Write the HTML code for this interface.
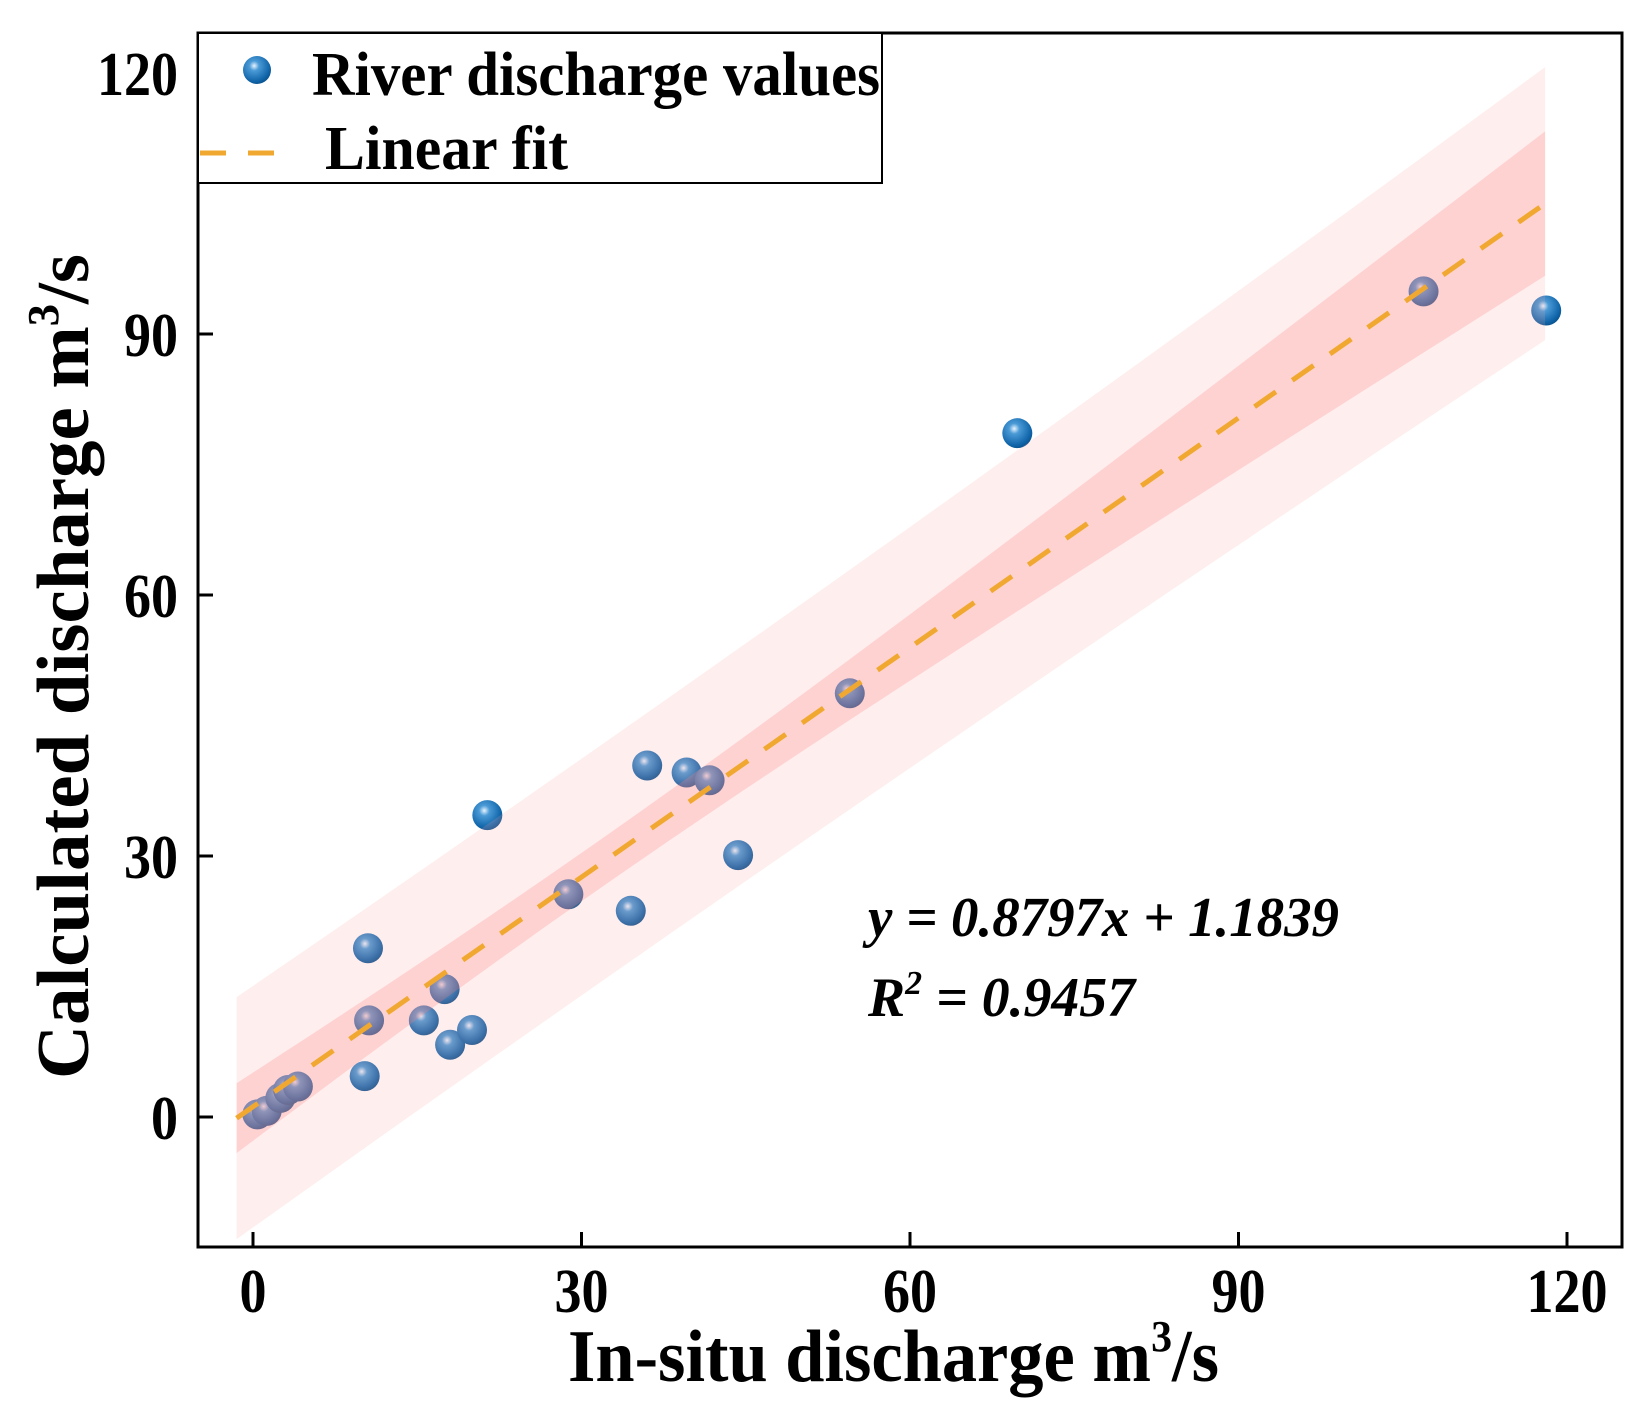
<!DOCTYPE html>
<html><head><meta charset="utf-8"><style>
html,body{margin:0;padding:0;background:#fff;}
svg{display:block;}
text{font-family:"Liberation Serif",serif;font-weight:bold;fill:#000;}
</style></head><body>
<svg id="chart" width="1651" height="1419" viewBox="0 0 1651 1419">
<defs>
<radialGradient id="ball" cx="0.4" cy="0.35" r="0.7">
<stop offset="0" stop-color="#e8f4ff"/><stop offset="0.25" stop-color="#4a9ad6"/><stop offset="0.8" stop-color="#0f64a8"/><stop offset="1" stop-color="#0a4f88"/>
</radialGradient>
<clipPath id="plotclip"><rect x="198" y="33" width="1424" height="1214"/></clipPath>
</defs>
<g id="points"></g>
<g id="bands" clip-path="url(#plotclip)"></g>
<g id="fit"></g>
<rect x="198" y="33" width="1424" height="1214" fill="none" stroke="#000" stroke-width="3"/>
<g id="axes"></g>
<g>
<rect x="198" y="33" width="684" height="150" fill="#fff" stroke="#000" stroke-width="2"/>
<circle cx="257" cy="70" r="14" fill="url(#ball)"/>
<text x="312" y="95" font-size="62" textLength="568" lengthAdjust="spacingAndGlyphs">River discharge values</text>
<line x1="200" y1="153" x2="292" y2="153" stroke="#f0a830" stroke-width="5" stroke-dasharray="26,22"/>
<text x="325" y="169" font-size="62" textLength="243" lengthAdjust="spacingAndGlyphs">Linear fit</text>
</g>
<text x="868" y="936" font-size="56" font-style="italic" textLength="471" lengthAdjust="spacingAndGlyphs">y = 0.8797x + 1.1839</text>
<text x="868" y="1016" font-size="56" font-style="italic" textLength="267" lengthAdjust="spacingAndGlyphs">R<tspan dy="-22" font-size="34">2</tspan><tspan dy="22"> = 0.9457</tspan></text>
<text x="568" y="1381" font-size="74" textLength="651" lengthAdjust="spacingAndGlyphs">In-situ discharge m<tspan dy="-30" font-size="44">3</tspan><tspan dy="30">/s</tspan></text>
<text transform="translate(88,1079) rotate(-90)" x="0" y="0" font-size="74" textLength="825" lengthAdjust="spacingAndGlyphs">Calculated discharge m<tspan dy="-30" font-size="44">3</tspan><tspan dy="30">/s</tspan></text>
</svg>
<script>
const xVals=[0.4,1.25,2.5,3.2,4.1,10.2,10.5,10.6,15.6,17.5,18.0,20.0,21.4,28.8,34.5,36.0,39.6,41.7,44.3,54.5,69.8,106.9,118.1];
const yVals=[0.3,0.7,2.2,3.1,3.5,4.7,19.4,11.1,11.1,14.7,8.3,10.0,34.7,25.6,23.7,40.4,39.6,38.7,30.1,48.7,78.6,94.9,92.7];
const fitCoef=[0.8797,1.1839];
const xTicks=[0,30,60,90,120];
const yTicks=[0,30,60,90,120];
const fitRange=[-1.5,118];
const NS="http://www.w3.org/2000/svg";
const X=v=>253+v*(1314/120);
const Y=v=>1117-v*(1044/120);
function mk(tag,attrs,parent){const e=document.createElementNS(NS,tag);for(const k in attrs)e.setAttribute(k,attrs[k]);parent.appendChild(e);return e;}
const pts=document.getElementById('points');
xVals.forEach((x,i)=>{
 const c=mk('circle',{cx:X(x),cy:Y(yVals[i]),r:15,fill:'url(#ball)'},pts);
 
 
});
const n=xVals.length;
const xm=xVals.reduce((a,b)=>a+b,0)/n;
let sxx=0,sse=0;
xVals.forEach((x,i)=>{sxx+=(x-xm)*(x-xm);const r=yVals[i]-(fitCoef[0]*x+fitCoef[1]);sse+=r*r;});
const s=Math.sqrt(sse/(n-2)),t=1.8;
function band(pred){
 const up=[],lo=[];
 for(let k=0;k<=60;k++){
  const x=fitRange[0]+(fitRange[1]-fitRange[0])*k/60;
  const f=fitCoef[0]*x+fitCoef[1];
  const h=t*s*Math.sqrt((pred?1:0)+1/n+(x-xm)*(x-xm)/sxx);
  up.push(X(x)+','+Y(f+h));lo.unshift(X(x)+','+Y(f-h));
 }
 return up.concat(lo).join(' ');
}
const bands=document.getElementById('bands');
const pb=mk('polygon',{points:band(true),fill:'#ff9e9e','fill-opacity':0.18},bands);


const cb=mk('polygon',{points:band(false),fill:'#ff8080','fill-opacity':0.25},bands);


const fl=mk('line',{x1:X(fitRange[0]),y1:Y(fitCoef[0]*fitRange[0]+fitCoef[1]),x2:X(fitRange[1]),y2:Y(fitCoef[0]*fitRange[1]+fitCoef[1]),stroke:'#f0a830','stroke-width':5,'stroke-dasharray':'26,20'},document.getElementById('fit'));


const ax=document.getElementById('axes');
xTicks.forEach(v=>{
 const l=mk('line',{x1:X(v),x2:X(v),y1:1247,y2:1232,stroke:'#000','stroke-width':3},ax);
 
 
 const tx=mk('text',{x:X(v),y:1312,'font-size':62,'text-anchor':'middle',textLength:String(v).length*27,lengthAdjust:'spacingAndGlyphs'},ax);
 tx.textContent=v;
 
 
});
yTicks.forEach(v=>{
 const l=mk('line',{x1:198,x2:213,y1:Y(v),y2:Y(v),stroke:'#000','stroke-width':3},ax);
 
 
 const tx=mk('text',{x:178,y:Y(v)+22,'font-size':62,'text-anchor':'end',textLength:String(v).length*27,lengthAdjust:'spacingAndGlyphs'},ax);
 tx.textContent=v;
 
 
});
</script>
</body></html>
